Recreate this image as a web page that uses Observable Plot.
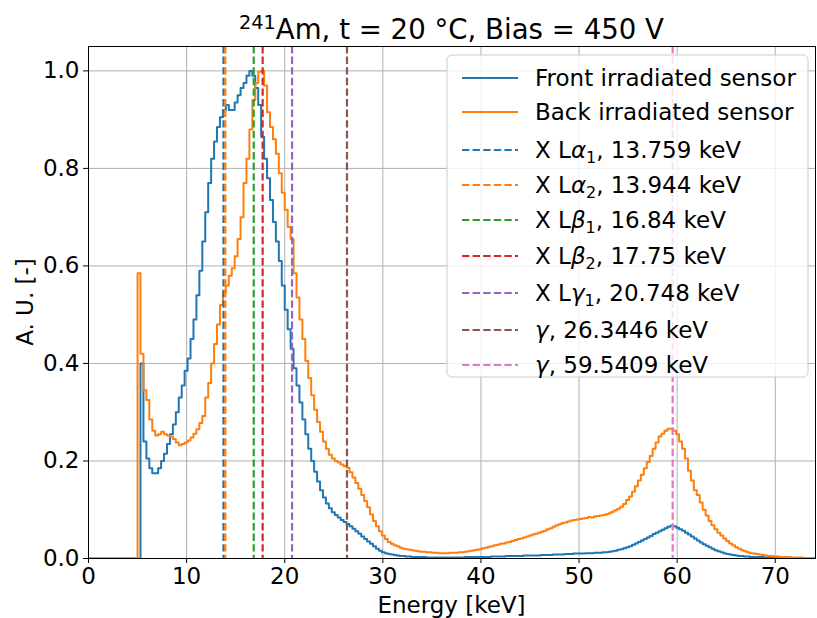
<!DOCTYPE html>
<html><head><meta charset="utf-8">
<script src="https://cdn.jsdelivr.net/npm/d3@7"></script>
<script src="https://cdn.jsdelivr.net/npm/@observablehq/plot@0.6"></script>
<style>body{margin:0;background:#fff;} svg{display:block}</style>
</head><body><div id="chart"></div>
<script>
// Histogram bins: left edge -0.1 keV, width 0.3 keV, 247 bins (-0.1 to 74.0 keV)
const binStart = -0.1;
const binWidth = 0.3;

const frontValues = [
  0,0,0,0,0,0,0,0,0,0,0,0,0,0,0,0,0,
  // 5.0 – 33.2 keV
  0,0.40,0.24,0.205,0.185,0.175,0.175,0.185,0.20,0.215,
  0.235,0.255,0.275,0.30,0.33,0.355,0.385,0.41,0.45,0.49,
  0.54,0.59,0.65,0.71,0.77,0.82,0.855,0.885,0.905,0.92,
  0.93,0.92,0.92,0.935,0.95,0.965,0.975,0.99,1.0,0.99,
  0.965,0.93,0.865,0.82,0.78,0.735,0.69,0.65,0.61,0.56,
  0.51,0.47,0.43,0.39,0.355,0.32,0.285,0.255,0.225,0.20,
  0.178,0.158,0.14,0.125,0.113,0.103,0.095,0.089,0.084,0.079,
  0.075,0.071,0.066,0.061,0.056,0.051,0.045,0.04,0.035,0.03,
  0.025,0.02,0.016,0.013,0.011,0.009,0.008,0.007,0.006,0.005,
  0.005,0.004,0.004,0.003,
  // 33.2 – 40.1
  0.003,0.003,0.003,0.003,0.002,0.002,0.002,0.002,0.002,0.002,0.002,0.002,
  0.002,0.002,0.002,0.002,0.002,0.003,0.003,0.003,0.003,0.003,0.003,
  // 40.1 – 46.1
  0.003,0.003,0.003,0.004,0.004,0.004,0.004,0.004,0.005,0.005,
  0.005,0.005,0.005,0.005,0.006,0.006,0.006,0.006,0.006,0.006,
  // 46.1 – 50.0
  0.007,0.007,0.007,0.007,0.008,0.008,0.008,0.008,0.009,0.009,0.009,0.01,0.01,
  // 50.0 – 53.0
  0.01,0.01,0.011,0.011,0.011,0.012,0.012,0.012,0.013,0.013,
  // 53.0 – 59.3
  0.014,0.015,0.016,0.018,0.019,0.021,0.023,
  0.025,0.028,0.031,0.034,0.037,0.04,0.043,
  0.046,0.05,0.053,0.056,0.059,0.062,0.065,
  // 59.3 – 59.9
  0.067,0.066,
  // 59.9 – 68.0
  0.063,0.06,0.057,0.053,0.049,0.045,0.041,
  0.037,0.033,0.029,0.026,0.023,0.02,0.017,
  0.015,0.013,0.011,0.009,0.008,0.007,0.006,
  0.005,0.005,0.004,0.004,0.003,0.003,
  // 68.0 – 74.0
  0.003,0.003,0.003,0.002,0.002,0.002,0.002,0.002,0.002,0.002,
  0.002,0.002,0.001,0.001,0.001,0.001,0.001,0.001,0.001,0.001
];

const backValues = [
  0,0,0,0,0,0,0,0,0,0,0,0,0,0,0,0,0,
  // 5.0 – 33.2 keV
  0.585,0.42,0.345,0.325,0.285,0.262,0.252,0.255,0.26,0.255,
  0.252,0.25,0.245,0.238,0.232,0.235,0.238,0.242,0.248,0.256,
  0.265,0.278,0.292,0.33,0.36,0.40,0.44,0.48,0.52,0.545,
  0.56,0.58,0.595,0.62,0.655,0.70,0.77,0.82,0.88,0.94,
  0.975,0.998,1.0,0.97,0.915,0.885,0.86,0.83,0.79,0.75,
  0.715,0.68,0.655,0.585,0.535,0.49,0.45,0.405,0.37,0.335,
  0.305,0.28,0.26,0.24,0.225,0.213,0.205,0.20,0.197,0.193,
  0.189,0.186,0.177,0.166,0.155,0.143,0.13,0.118,0.105,0.09,
  0.077,0.066,0.056,0.047,0.04,0.034,0.03,0.027,0.025,0.022,
  0.02,0.019,0.018,0.017,
  // 33.2 – 40.1
  0.016,0.015,0.014,0.014,0.013,0.013,0.012,0.012,0.011,0.011,0.011,0.011,
  0.012,0.012,0.012,0.013,0.013,0.014,0.015,0.016,0.017,0.018,0.019,
  // 40.1 – 46.1
  0.021,0.022,0.024,0.025,0.027,0.028,0.03,0.031,0.033,0.034,
  0.036,0.038,0.04,0.041,0.043,0.045,0.047,0.049,0.051,0.053,
  // 46.1 – 50.0
  0.055,0.057,0.06,0.062,0.065,0.068,0.07,0.073,0.074,0.076,0.078,0.079,0.08,
  // 50.0 – 53.0
  0.081,0.082,0.083,0.085,0.084,0.086,0.087,0.088,0.089,0.091,
  // 53.0 – 59.3
  0.093,0.096,0.099,0.102,0.106,0.112,0.12,
  0.127,0.137,0.148,0.16,0.172,0.185,0.198,
  0.21,0.225,0.238,0.25,0.256,0.262,0.266,
  // 59.3 – 59.9
  0.266,0.262,
  // 59.9 – 68.0
  0.255,0.24,0.225,0.205,0.18,0.16,0.14,
  0.13,0.115,0.10,0.088,0.077,0.068,0.06,
  0.053,0.047,0.041,0.036,0.031,0.027,0.023,
  0.02,0.017,0.015,0.013,0.011,0.01,
  // 68.0 – 74.0
  0.009,0.008,0.007,0.006,0.005,0.005,0.004,0.004,0.003,0.003,
  0.003,0.002,0.002,0.002,0.002,0.002,0.001,0.001,0.001,0.001
];

const seriesNames = ["Front irradiated sensor", "Back irradiated sensor"];
const seriesColors = ["#1f77b4", "#ff7f0e"];

const lineEnergies = [13.759, 13.944, 16.84, 17.75, 20.748, 26.3446, 59.5409];
const lineColors = ["#1f77b4", "#ff7f0e", "#2ca02c", "#d62728", "#9467bd", "#8c564b", "#e377c2"];
// legend label parts: [prefix, italic greek, subscript, suffix]
const lineLabels = [
  ["X L", "α", "1", ", 13.759 keV"],
  ["X L", "α", "2", ", 13.944 keV"],
  ["X L", "β", "1", ", 16.84 keV"],
  ["X L", "β", "2", ", 17.75 keV"],
  ["X L", "γ", "1", ", 20.748 keV"],
  ["", "γ", "", ", 26.3446 keV"],
  ["", "γ", "", ", 59.5409 keV"]
];

const xTicks = [0, 10, 20, 30, 40, 50, 60, 70];
const yTicks = [0, 0.2, 0.4, 0.6, 0.8, 1.0];

function steps(vals) {
  const pts = vals.map((v, i) => ({x: binStart + i * binWidth, y: v}));
  const end = binStart + vals.length * binWidth;
  pts.push({x: end, y: vals[vals.length - 1]});
  pts.push({x: end, y: 0});
  return pts;
}

const ruleData = lineEnergies.map((e, i) => ({e, c: lineColors[i]}));

const FS = 23;
const chart = Plot.plot({
  width: 817, height: 618,
  marginLeft: 88, marginRight: 2, marginTop: 46, marginBottom: 60,
  style: {fontFamily: "DejaVu Sans, sans-serif", fontSize: FS + "px", color: "#000", background: "#fff"},
  x: {domain: [0, 74.1]},
  y: {domain: [0, 1.05]},
  color: {type: "identity"},
  marks: [
    Plot.gridX(xTicks, {stroke: "#b0b0b0", strokeOpacity: 1, strokeWidth: 1}),
    Plot.gridY(yTicks, {stroke: "#b0b0b0", strokeOpacity: 1, strokeWidth: 1}),
    Plot.line(steps(frontValues), {x: "x", y: "y", curve: "step-after", stroke: seriesColors[0], strokeWidth: 2, clip: true}),
    Plot.line(steps(backValues), {x: "x", y: "y", curve: "step-after", stroke: seriesColors[1], strokeWidth: 2, clip: true}),
    Plot.ruleX(ruleData, {x: "e", stroke: "c", strokeWidth: 2.2, strokeDasharray: "7.4,3.2"}),
    Plot.frame({stroke: "#000", strokeWidth: 1}),
    Plot.axisX(xTicks, {tickSize: 5, tickPadding: 4, label: null, fontSize: FS}),
    Plot.axisY(yTicks, {tickSize: 5, tickPadding: 4, label: null, fontSize: FS, tickFormat: d3.format(".1f")})
  ]
});

document.getElementById("chart").appendChild(chart);
const svg = d3.select(chart);

// Title
const title = svg.append("text")
  .attr("x", 451.5).attr("y", 39)
  .attr("text-anchor", "middle")
  .style("font-family", "DejaVu Sans, sans-serif")
  .style("font-size", "27.6px")
  .attr("fill", "#000");
title.append("tspan").attr("dy", -10).style("font-size", "19.3px").text("241");
title.append("tspan").attr("dy", 10).text("Am, t = 20 °C, Bias = 450 V");

// Axis labels
svg.append("text")
  .attr("x", 451.5).attr("y", 613)
  .attr("text-anchor", "middle")
  .style("font-family", "DejaVu Sans, sans-serif")
  .style("font-size", FS + "px")
  .attr("fill", "#000")
  .text("Energy [keV]");
svg.append("text")
  .attr("transform", "translate(33,302) rotate(-90)")
  .attr("text-anchor", "middle")
  .style("font-family", "DejaVu Sans, sans-serif")
  .style("font-size", FS + "px")
  .attr("fill", "#000")
  .text("A. U. [-]");

// Legend
const lg = svg.append("g");
lg.append("rect")
  .attr("x", 447).attr("y", 55).attr("width", 361).attr("height", 322)
  .attr("rx", 5).attr("fill", "#fff").attr("fill-opacity", 0.8)
  .attr("stroke", "#cccccc").attr("stroke-width", 1);
const rowY = [78, 112, 150, 185, 220, 256, 293, 330, 365];
const entries = [
  {color: seriesColors[0], dash: null, parts: ["", "", "", seriesNames[0]]},
  {color: seriesColors[1], dash: null, parts: ["", "", "", seriesNames[1]]},
  ...lineLabels.map((p, i) => ({color: lineColors[i], dash: "7.4,3.2", parts: p}))
];
entries.forEach((en, i) => {
  const y = rowY[i];
  lg.append("line")
    .attr("x1", 462).attr("x2", 518).attr("y1", y).attr("y2", y)
    .attr("stroke", en.color).attr("stroke-width", 2)
    .attr("stroke-dasharray", en.dash);
  const t = lg.append("text")
    .attr("x", 535).attr("y", y + 8)
    .attr("text-anchor", "start")
    .style("font-family", "DejaVu Sans, sans-serif")
    .style("font-size", FS + "px")
    .attr("fill", "#000");
  const [pre, greek, sub, suf] = en.parts;
  if (pre) t.append("tspan").text(pre);
  if (greek) t.append("tspan").style("font-style", "italic").text(greek);
  if (sub) {
    t.append("tspan").attr("dy", 5).style("font-size", "16px").text(sub);
    t.append("tspan").attr("dy", -5).text(suf);
  } else {
    t.append("tspan").text(suf);
  }
});
</script>
</body></html>
